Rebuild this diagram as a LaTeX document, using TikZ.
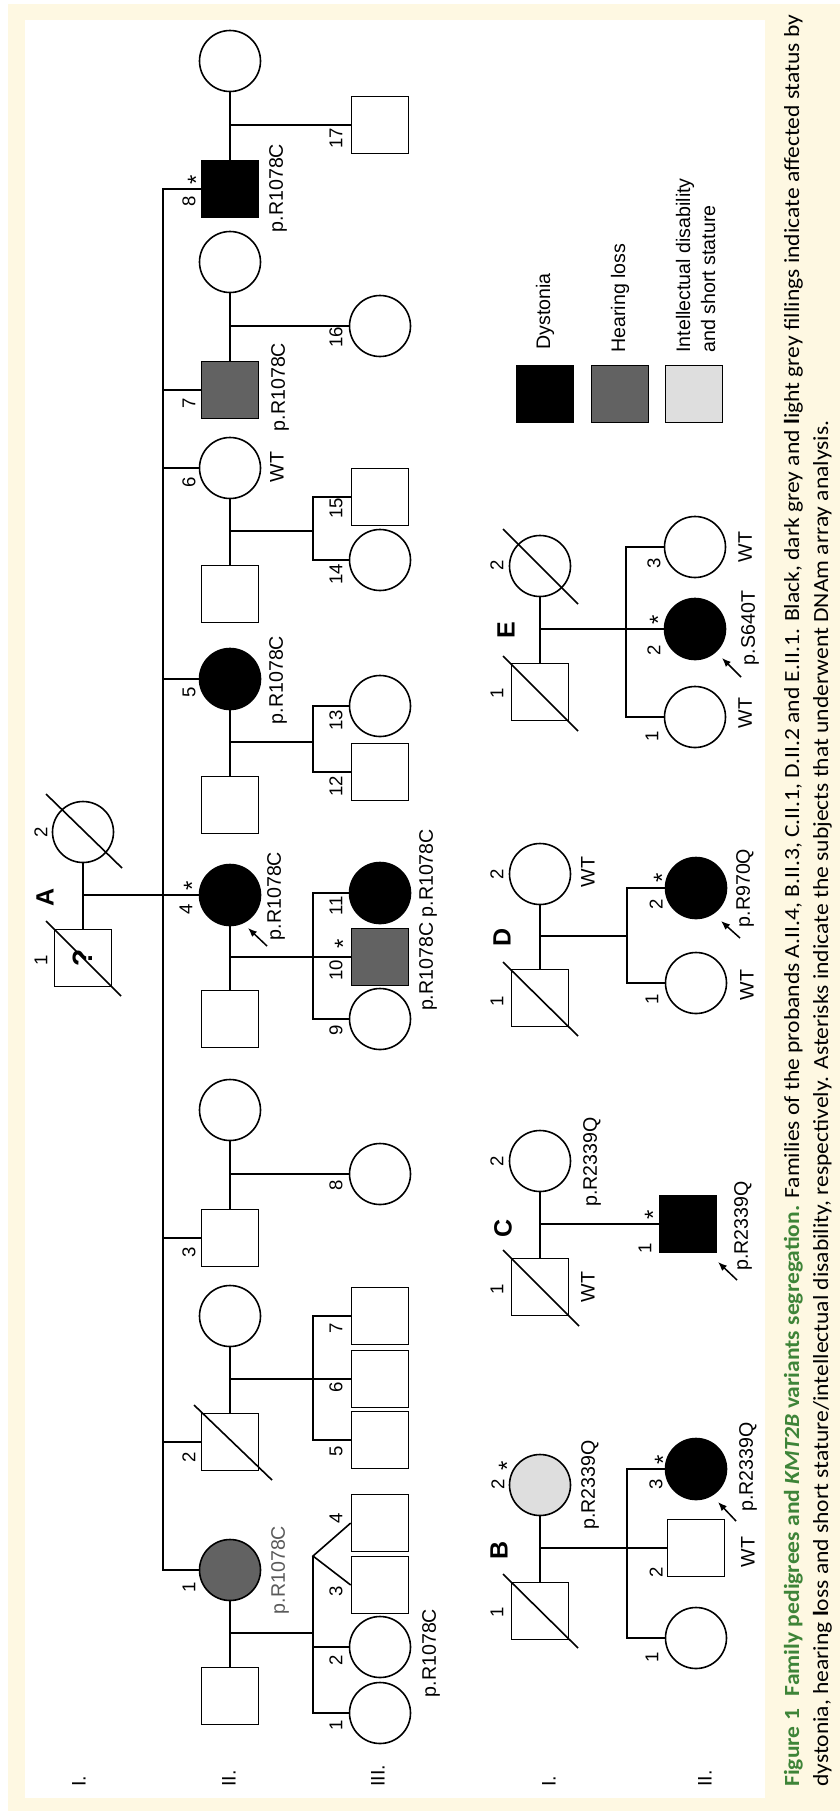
\documentclass[tikz,border=0pt]{standalone}
\usepackage{graphicx}
\usepackage{fontspec}
\setmainfont{Liberation Sans}
\newfontfamily\capfont{Carlito}
\usetikzlibrary{calc,arrows.meta}
\definecolor{cream}{RGB}{254,248,226}
\definecolor{hlgrey}{RGB}{98,98,98}
\definecolor{idgrey}{RGB}{222,222,222}
\definecolor{capgreen}{RGB}{62,132,56}
\definecolor{txtgrey}{RGB}{90,90,90}
\newcommand\lbf{\fontsize{9.8pt}{12.5pt}\selectfont}
\newcommand\nmf{\fontsize{9.3pt}{11pt}\selectfont}
\newcommand\astf{\fontsize{12pt}{14pt}\selectfont}
\newcommand\famf{\bfseries\fontsize{12.5pt}{15pt}\selectfont}
\newsavebox\capboxA
\newsavebox\capboxB
\newcommand\capmeasure{%
  \sbox\capboxA{\capfont\fontsize{10.8pt}{13pt}\selectfont{\color{capgreen}\bfseries Figure 1\hspace{0.55em}Family pedigrees and \textit{KMT2B} variants segregation.} Families of the probands A.II.4, B.II.3, C.II.1, D.II.2 and E.II.1. Black, dark grey and {\bfseries l}ight grey fillings indicate affected status by}%
  \sbox\capboxB{\capfont\fontsize{10.8pt}{13pt}\selectfont dystonia, hearing {\bfseries l}oss and short stature/intellectual disability, respectively. Asterisks indicate the subjects that underwent DNAm array analysis.}%
}
\begin{document}
\begin{tikzpicture}[x=0.5pt,y=-0.5pt,
  ln/.style={line width=0.8pt},
  pmale/.style={draw, rectangle, line width=0.8pt, minimum size=28.5pt, inner sep=0pt, fill=white},
  pfemale/.style={draw, circle, line width=0.8pt, minimum size=30.5pt, inner sep=0pt, fill=white},
  dys/.style={fill=black},
  hear/.style={fill=hlgrey},
  idss/.style={fill=idgrey},
  txt/.style={rotate=90, inner sep=0pt, font=\lbf},
  numl/.style={rotate=90, inner sep=0pt, font=\nmf},
  ast/.style={rotate=90, inner sep=0pt, font=\astf},
  fam/.style={rotate=90, inner sep=0pt, font=\famf},
  parr/.style={line width=0.75pt, -{Latex[length=4.5pt,width=3.6pt]}},
]
\useasboundingbox (0,0) rectangle (840,1811);
\fill[cream] (0,0) rectangle (840,1811);
\fill[white] (0,0) rectangle (8,1811);
\fill[white] (0,0) rectangle (840,4);
\fill[white] (25,20) rectangle (765,1798);

% ================= Family A =================
\node[pfemale] (A12) at (83,832) {};
\node[pmale] (A11) at (83,958) {};
\node[fam, font=\bfseries\fontsize{14pt}{16pt}\selectfont] (Aq) at (83,958) {?};
\draw[ln] (A12) -- (A11);
\draw[ln] ($(A11)+(-37,-37)$) -- ($(A11)+(38,38)$);
\draw[ln] ($(A12)+(-37,-38)$) -- ($(A12)+(39,36)$);

% generation II
\node[pfemale] (A28s) at (230,61) {};
\node[pmale,dys] (A28) at (230,189) {};
\node[pfemale] (A27s) at (230,262) {};
\node[pmale,hear] (A27) at (230,390) {};
\node[pfemale] (A26) at (230,468) {};
\node[pmale] (A26s) at (230,594) {};
\node[pfemale,dys] (A25) at (230,679) {};
\node[pmale] (A25s) at (230,805) {};
\node[pfemale,dys] (A24) at (230,895) {};
\node[pmale] (A24s) at (230,1019) {};
\node[pfemale] (A23s) at (230,1110) {};
\node[pmale] (A23) at (230,1238) {};
\node[pfemale] (A22s) at (230,1316) {};
\node[pmale] (A22) at (230,1442) {};
\node[pfemale,hear] (A21) at (230,1570) {};
\node[pmale] (A21s) at (230,1696) {};
\draw[ln] ($(A22)+(-36,-37)$) -- ($(A22)+(42,38)$);

% generation III
\node[pmale] (A317) at (380,125) {};
\node[pfemale] (A316) at (380,326) {};
\node[pmale] (A315) at (380,497) {};
\node[pfemale] (A314) at (380,560) {};
\node[pfemale] (A313) at (380,706) {};
\node[pmale] (A312) at (380,772) {};
\node[pfemale,dys] (A311) at (380,893) {};
\node[pmale,hear] (A310) at (380,957) {};
\node[pfemale] (A39) at (380,1019) {};
\node[pfemale] (A38) at (380,1174) {};
\node[pmale] (A37) at (380,1316) {};
\node[pmale] (A36) at (380,1379) {};
\node[pmale] (A35) at (380,1440) {};
\node[pmale] (A34) at (380,1523) {};
\node[pmale] (A33) at (380,1585) {};
\node[pfemale] (A32) at (380,1647) {};
\node[pfemale] (A31) at (380,1713) {};

% connectors family A
\coordinate (Am) at ($(A11)!0.5!(A12)$);
\draw[ln] (Am) -- (A24);
\coordinate (Asib) at ($(Am)+(80,0)$);
\draw[ln] (A28.west) -| (Asib) |- (A21.west);
\foreach \n in {27,26,25,23,22} \draw[ln] (A\n.west) -- (A\n.west -| Asib);
\foreach \n in {8,7,6,5,4,3,2,1} \draw[ln] (A2\n) -- (A2\n s);
\coordinate (m8) at ($(A28s)!0.5!(A28)$);
\draw[ln] (m8) -- (m8 -| A317.west);
\coordinate (m7) at ($(A27s)!0.5!(A27)$);
\draw[ln] (m7) -- (m7 -| A316.west);
\coordinate (m6) at ($(A26)!0.5!(A26s)$);
\draw[ln] (m6) -- ++(83,0) coordinate (s6);
\draw[ln] (A315.west) -| (s6) |- (A314.west);
\coordinate (m5) at ($(A25)!0.5!(A25s)$);
\draw[ln] (m5) -- ++(83,0) coordinate (s5);
\draw[ln] (A313.west) -| (s5) |- (A312.west);
\coordinate (m4) at ($(A24)!0.5!(A24s)$);
\draw[ln] (m4) -- ++(83,0) coordinate (s4);
\draw[ln] (A311.west) -| (s4) |- (A39.west);
\draw[ln] (A310.west) -- (A310.west -| s4);
\coordinate (m3) at ($(A23s)!0.5!(A23)$);
\draw[ln] (m3) -- (m3 -| A38.west);
\coordinate (m2) at ($(A22s)!0.5!(A22)$);
\draw[ln] (m2) -- ++(83,0) coordinate (s2);
\draw[ln] (A37.west) -| (s2) |- (A35.west);
\draw[ln] (A36.west) -- (A36.west -| s2);
\coordinate (m1) at ($(A21)!0.5!(A21s)$);
\draw[ln] (m1) -- ++(83,0) coordinate (s1);
\coordinate (tw) at ($(s1)+(0,-77)$);
\draw[ln] (A34.west) -- (tw) -- (A33.west);
\draw[ln] (tw) |- (A31.west);
\draw[ln] (A32.west) -- (A32.west -| s1);
\draw[parr] ($(A24)+(37,51)$) -- ($(A24)+(18,33)$);

% texts family A
\node[fam] (tA) at (45,897) {A};
\node[numl] (nA11) at (41,960) {1};
\node[numl] (nA12) at (41,832) {2};
\node[numl] (nA28) at (189,201) {8};
\node[ast] (sA28) at (196,180) {*};
\node[numl] (nA27) at (189,403) {7};
\node[numl] (nA26) at (189,482) {6};
\node[numl] (nA25) at (189,692) {5};
\node[numl] (nA24) at (186,909) {4};
\node[ast] (sA24) at (192,886) {*};
\node[numl] (nA23) at (189,1252) {3};
\node[numl] (nA22) at (189,1457) {2};
\node[numl] (nA21) at (189,1587) {1};
\node[numl] (nA317) at (336,138) {17};
\node[numl] (nA316) at (336,337) {16};
\node[numl] (nA315) at (336,508) {15};
\node[numl] (nA314) at (336,574) {14};
\node[numl] (nA313) at (336,720) {13};
\node[numl] (nA312) at (336,786) {12};
\node[numl] (nA311) at (336,906) {11};
\node[numl] (nA310) at (336,970) {10};
\node[ast] (sA310) at (343,944) {*};
\node[numl] (nA39) at (336,1030) {9};
\node[numl] (nA38) at (336,1185) {8};
\node[numl] (nA37) at (336,1328) {7};
\node[numl] (nA36) at (336,1387) {6};
\node[numl] (nA35) at (336,1451) {5};
\node[numl] (nA34) at (336,1518) {4};
\node[numl] (nA33) at (336,1591) {3};
\node[numl] (nA32) at (336,1660) {2};
\node[numl] (nA31) at (336,1725) {1};
\node[txt] (vA28) at (278,188) {p.R1078C};
\node[txt] (vA27) at (280,387) {p.R1078C};
\node[txt] (vA26) at (277,467) {WT};
\node[txt] (vA25) at (278,680) {p.R1078C};
\node[txt] (vA24) at (276,896) {p.R1078C};
\node[txt, text=txtgrey] (vA21) at (280,1570) {p.R1078C};
\node[txt] (vA310) at (428,920) {p.R1078C p.R1078C};
\node[txt] (vA32) at (431,1653) {p.R1078C};
\node[txt, anchor=west] (rA1) at (79,1787) {I.};
\node[txt, anchor=west] (rA2) at (229,1787) {II.};
\node[txt, anchor=west] (rA3) at (378,1787) {III.};

% ================= Family B =================
\node[pfemale,idss] (B12) at (540,1485) {};
\node[pmale] (B11) at (540,1611) {};
\draw[ln] (B12) -- (B11);
\draw[ln] ($(B11)+(-37,-37)$) -- ($(B11)+(38,37)$);
\coordinate (mB) at ($(B12)!0.5!(B11)$);
\node[pfemale,dys] (B23) at (696,1469) {};
\node[pmale] (B22) at (696,1548) {};
\node[pfemale] (B21) at (696,1638) {};
\draw[ln] (mB) -- (B22);
\coordinate (sB) at ($(mB)+(87,0)$);
\draw[ln] (B23.west) -| (sB) |- (B21.west);
\draw[parr] ($(B23)+(40,52)$) -- ($(B23)+(22,33)$);
\node[fam] (tB) at (499,1550) {B};
\node[numl] (nB11) at (497,1612) {1};
\node[numl] (nB12) at (498,1484) {2};
\node[ast] (sB12) at (507,1466) {*};
\node[numl] (nB23) at (656,1484) {3};
\node[ast] (sB23) at (663,1460) {*};
\node[numl] (nB22) at (656,1572) {2};
\node[numl] (nB21) at (652,1657) {1};
\node[txt] (vB12) at (590,1485) {p.R2339Q};
\node[txt] (vB23) at (748,1467) {p.R2339Q};
\node[txt] (vB22) at (748,1552) {WT};
\node[txt, anchor=west] (rB1) at (549,1787) {I.};
\node[txt, anchor=west] (rB2) at (705,1787) {II.};

% ================= Family C =================
\node[pfemale] (C12) at (540,1161) {};
\node[pmale] (C11) at (540,1287) {};
\draw[ln] (C12) -- (C11);
\draw[ln] ($(C11)+(-37,-37)$) -- ($(C11)+(39,39)$);
\coordinate (mC) at ($(C12)!0.5!(C11)$);
\node[pmale,dys] (C21) at (688,1224) {};
\draw[ln] (mC) -- (C21);
\draw[parr] ($(C21)+(49,56)$) -- ($(C21)+(30,38)$);
\node[fam] (tC) at (503,1228) {C};
\node[numl] (nC11) at (497,1289) {1};
\node[numl] (nC12) at (497,1161) {2};
\node[numl] (nC21) at (645,1248) {1};
\node[ast] (sC21) at (653,1215) {*};
\node[txt] (vC11) at (588,1287) {WT};
\node[txt] (vC12) at (592,1162) {p.R2339Q};
\node[txt] (vC21) at (743,1226) {p.R2339Q};

% ================= Family D =================
\node[pfemale] (D12) at (540,874) {};
\node[pmale] (D11) at (540,998) {};
\draw[ln] (D12) -- (D11);
\draw[ln] ($(D11)+(-37,-36)$) -- ($(D11)+(38,38)$);
\coordinate (mD) at ($(D12)!0.5!(D11)$);
\node[pfemale,dys] (D22) at (696,888) {};
\node[pfemale] (D21) at (696,983) {};
\draw[ln] (mD) -- ++(87,0) coordinate (sD);
\draw[ln] (D22.west) -| (sD) |- (D21.west);
\draw[parr] ($(D22)+(44,50)$) -- ($(D22)+(25,33)$);
\node[fam] (tD) at (502,937) {D};
\node[numl] (nD11) at (497,1001) {1};
\node[numl] (nD12) at (497,874) {2};
\node[numl] (nD22) at (656,904) {2};
\node[ast] (sD22) at (662,878) {*};
\node[numl] (nD21) at (652,999) {1};
\node[txt] (vD12) at (588,872) {WT};
\node[txt] (vD22) at (745,888) {p.R970Q};
\node[txt] (vD21) at (747,985) {WT};

% ================= Family E =================
\node[pfemale] (E12) at (540,566) {};
\node[pmale] (E11) at (540,692) {};
\draw[ln] (E12) -- (E11);
\draw[ln] ($(E11)+(-37,-36)$) -- ($(E11)+(38,39)$);
\draw[ln] ($(E12)+(-37,-37)$) -- ($(E12)+(38,38)$);
\coordinate (mE) at ($(E12)!0.5!(E11)$);
\node[pfemale] (E23) at (695,547) {};
\node[pfemale,dys] (E22) at (695,629) {};
\node[pfemale] (E21) at (695,717) {};
\draw[ln] (mE) -- (E22);
\coordinate (sE) at ($(mE)+(86,0)$);
\draw[ln] (E23.west) -| (sE) |- (E21.west);
\draw[parr] ($(E22)+(46,48)$) -- ($(E22)+(27,29)$);
\node[fam] (tE) at (506,630) {E};
\node[numl] (nE11) at (497,693) {1};
\node[numl] (nE12) at (497,565) {2};
\node[numl] (nE23) at (654,563) {3};
\node[numl] (nE22) at (654,650) {2};
\node[ast] (sE22) at (658,620) {*};
\node[numl] (nE21) at (652,736) {1};
\node[txt] (vE23) at (745,547) {WT};
\node[txt] (vE22) at (750,628) {p.S640T};
\node[txt] (vE21) at (745,713) {WT};

% ================= Legend =================
\node[pmale,dys] (L1) at (545,394) {};
\node[pmale,hear] (L2) at (620,394) {};
\node[pmale,idss] (L3) at (694,394) {};
\node[txt, anchor=west] (L1t) at (545,350) {Dystonia};
\node[txt, anchor=west] (L2t) at (620,353) {Hearing loss};
\node[txt, anchor=west, align=left] (L3t) at (695.5,353) {Intellectual disability\\and short stature};

% ================= Caption =================
\node[rotate=90, anchor=base west, inner sep=0pt] (cap1) at (799,1787)
  {\capmeasure\resizebox{886pt}{\height}{\usebox\capboxA}};
\node[rotate=90, anchor=base west, inner sep=0pt] (cap2) at (828,1787)
  {\capmeasure\resizebox{\dimexpr 886pt*\wd\capboxB/\wd\capboxA\relax}{\height}{\usebox\capboxB}};
\end{tikzpicture}
\end{document}
